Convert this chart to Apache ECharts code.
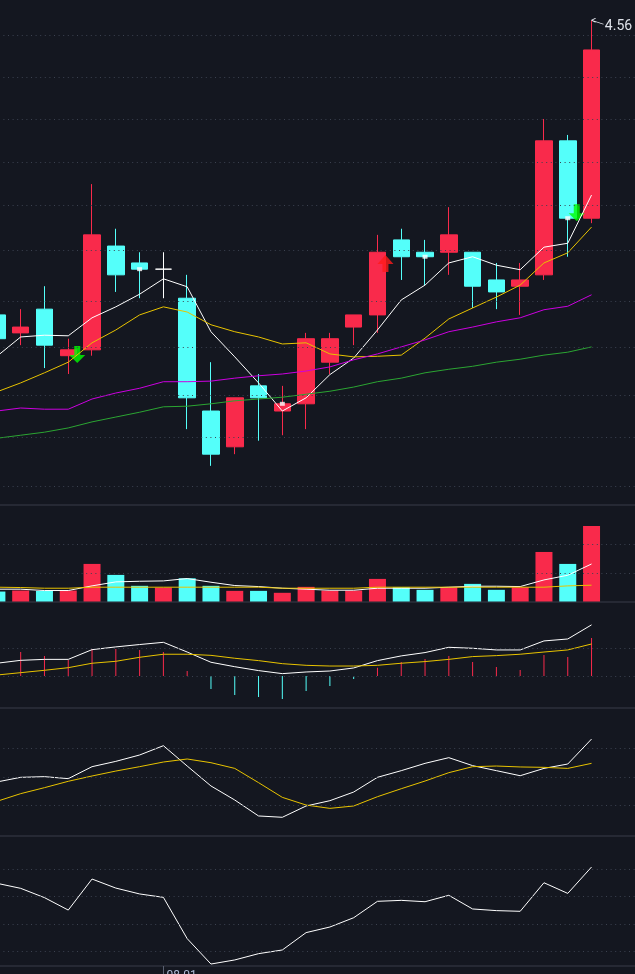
<!DOCTYPE html>
<html>
<head>
<meta charset="utf-8">
<title>K线</title>
<script src="https://cdn.jsdelivr.net/npm/echarts@6/dist/echarts.min.js"></script>
<style>
html, body {margin: 0; padding: 0; background: #141720; overflow: hidden; width: 635px; height: 974px;}
/* 28个K线位宽 23.79px，首根K线只露出一半，所以画布左移 */
#chart {position: absolute; left: -14.7px; top: 0; width: 666.1px; height: 974px;}
</style>
</head>
<body>
<div id="chart"></div>
<script>
// 交易日
var dates = ['07-23','07-24','07-25','07-28','07-29','07-30','07-31','08-01','08-04','08-05',
             '08-06','08-07','08-08','08-11','08-12','08-13','08-14','08-15','08-18','08-19',
             '08-20','08-21','08-22','08-25','08-26','08-27','',''];
// [open, close, low, high]
var kData = [
    [4.016, 3.975, 3.975, 4.016], [3.985, 3.995, 3.964, 4.026], [4.026, 3.964, 3.925, 4.066],
    [3.946, 3.956, 3.915, 3.975], [3.956, 4.157, 3.946, 4.249], [4.137, 4.086, 4.056, 4.168],
    [4.107, 4.096, 4.045, 4.126], [4.096, 4.096, 4.045, 4.126], [4.045, 3.875, 3.823, 4.086],
    [3.853, 3.782, 3.763, 3.935], [3.794, 3.875, 3.782, 3.875], [3.895, 3.875, 3.804, 3.915],
    [3.853, 3.865, 3.813, 3.895], [3.865, 3.975, 3.823, 3.985], [3.935, 3.975, 3.915, 3.985],
    [3.995, 4.016, 3.964, 4.016], [4.016, 4.126, 3.985, 4.157], [4.148, 4.118, 4.077, 4.168],
    [4.126, 4.118, 4.068, 4.148], [4.126, 4.157, 4.086, 4.207], [4.126, 4.066, 4.028, 4.126],
    [4.077, 4.056, 4.026, 4.107], [4.066, 4.077, 4.016, 4.107], [4.086, 4.329, 4.077, 4.370],
    [4.329, 4.187, 4.118, 4.340], [4.187, 4.502, 4.178, 4.560]
];
var ma5  = [3.945, 3.978, 3.981, 3.980, 4.011, 4.030, 4.052, 4.079, 4.065, 3.987, 3.944, 3.900, 3.853,
            3.875, 3.914, 3.942, 3.990, 4.042, 4.068, 4.107, 4.118, 4.103, 4.095, 4.135, 4.142, 4.229];
var ma10 = [3.885, 3.900, 3.917, 3.935, 3.968, 3.990, 4.016, 4.030, 4.021, 3.999, 3.987, 3.978, 3.966,
            3.968, 3.949, 3.944, 3.945, 3.947, 3.976, 4.009, 4.028, 4.047, 4.068, 4.107, 4.125, 4.171];
var ma20 = [3.853, 3.858, 3.856, 3.856, 3.873, 3.883, 3.891, 3.902, 3.902, 3.903, 3.908, 3.912, 3.915,
            3.920, 3.927, 3.939, 3.949, 3.961, 3.973, 3.987, 3.995, 4.004, 4.011, 4.025, 4.031, 4.051];
var ma60 = [3.808, 3.813, 3.818, 3.825, 3.835, 3.843, 3.851, 3.860, 3.861, 3.865, 3.870, 3.873, 3.876,
            3.881, 3.886, 3.893, 3.902, 3.908, 3.917, 3.923, 3.928, 3.935, 3.940, 3.947, 3.952, 3.961];
var priceGrid = [4.525, 4.445, 4.365, 4.285, 4.205, 4.125, 4.045, 3.965, 3.885, 3.805, 3.725];
var highMark = 4.56;
// 信号点
var sellSignal = [[3, 3.948], [24, 4.197]];
var buySignal = [[16, 4.106]];
var dotMark = [[6, 4.096], [12, 3.865], [18, 4.118], [24, 4.187]];

// 成交量(万手)
var vol    = [1.74, 1.92, 1.85, 1.92, 6.57, 4.65, 2.74, 2.44, 4.06, 2.74, 1.86, 1.86, 1.52,
              2.56, 1.92, 1.92, 3.95, 2.49, 2.04, 2.49, 3.08, 2.04, 2.49, 8.66, 6.57, 13.19];
var volMa5 = [2.15, 2.15, 1.92, 1.92, 2.73, 3.43, 3.54, 3.60, 4.01, 3.37, 2.79, 2.61, 2.32,
              2.15, 1.97, 1.97, 2.32, 2.32, 2.32, 2.50, 2.67, 2.67, 2.61, 3.77, 4.59, 6.56];
var volMa10 = [2.50, 2.44, 2.32, 2.32, 2.50, 2.50, 2.50, 2.50, 2.50, 2.50, 2.50, 2.50, 2.32,
               2.32, 2.32, 2.32, 2.50, 2.50, 2.50, 2.50, 2.50, 2.50, 2.50, 2.50, 2.73, 2.85];
var volGrid = [5, 10];

// MACD
var dif  = [0.0092, 0.0113, 0.0120, 0.0120, 0.0190, 0.0210, 0.0227, 0.0243, 0.0173, 0.0099, 0.0067, 0.0039, 0.0017,
            0.0029, 0.0036, 0.0058, 0.0111, 0.0145, 0.0169, 0.0207, 0.0200, 0.0188, 0.0188, 0.0253, 0.0267, 0.0369];
var dea  = [0.0007, 0.0024, 0.0041, 0.0060, 0.0092, 0.0106, 0.0135, 0.0157, 0.0157, 0.0149, 0.0128, 0.0111, 0.0089,
            0.0077, 0.0072, 0.0072, 0.0077, 0.0092, 0.0104, 0.0120, 0.0140, 0.0147, 0.0157, 0.0173, 0.0188, 0.0231];
var macd = [0.0169, 0.0173, 0.0145, 0.0116, 0.0195, 0.0195, 0.0188, 0.0173, 0.0036, -0.0094, -0.0137, -0.0152, -0.0166,
            -0.0108, -0.0072, -0.0022, 0.0060, 0.0101, 0.0123, 0.0145, 0.0101, 0.0065, 0.0043, 0.0152, 0.0137, 0.0275];
var macdGrid = [0, 0.02];

// KD
var kLine = [44.6, 49.5, 50.2, 48.1, 60.7, 66.3, 73.0, 82.8, 61.4, 40.4, 25.6, 8.8, 7.4,
             19.3, 24.9, 34.0, 49.5, 56.5, 64.2, 70.2, 61.8, 56.5, 51.2, 58.9, 63.5, 89.8];
var dLine = [24.2, 32.3, 38.6, 45.3, 50.9, 56.1, 60.7, 65.6, 68.8, 64.9, 58.9, 43.9, 28.4,
             20.3, 16.8, 19.3, 29.1, 37.5, 45.6, 54.4, 60.7, 61.4, 60.4, 60.0, 58.9, 64.2];
var kdGrid = [20, 50, 80];

// RSI
var rsi = [69.8, 66.1, 59.3, 50.2, 72.9, 66.3, 62.0, 59.5, 29.3, 10.7, 13.7, 18.3, 21.0,
           33.7, 37.8, 44.6, 56.6, 57.3, 56.3, 61.0, 51.0, 49.8, 49.3, 70.2, 62.4, 81.7];
var rsiGrid = [20, 40, 60, 80];

var UP = '#f92a4b', DOWN = '#54fffa';
var dotLine = {color: '#3c4250', type: [1, 3.6], width: 1};
var sepLine = {show: true, onZero: false, lineStyle: {color: '#2d313b', width: 1.5}};

function gridLines(values) {
    return {
        silent: true,
        symbol: ['none', 'none'],
        label: {show: false},
        lineStyle: dotLine,
        data: values.map(function (v) { return {yAxis: v}; })
    };
}

function lineSeries(data, color, idx) {
    return {
        type: 'line', data: data, xAxisIndex: idx, yAxisIndex: idx,
        symbol: 'none', smooth: false, silent: true,
        lineStyle: {color: color, width: 1}
    };
}

function xAxisFor(idx) {
    return {
        type: 'category', gridIndex: idx, data: dates, boundaryGap: true,
        axisLine: sepLine, axisTick: {show: false}, axisLabel: {show: false},
        splitLine: {show: false}
    };
}

// 各面板：[top, height]
function panel(top, height) {
    return {left: 0, right: 0, top: top, height: height, containLabel: false, outerBoundsMode: 'none'};
}

var xAxes = [0, 1, 2, 3].map(xAxisFor);
var lastAxis = xAxisFor(4);
lastAxis.axisTick = {
    show: true, alignWithLabel: true, length: 8,
    interval: function (i) { return i === 7; },
    lineStyle: {color: '#5a6070'}
};
lastAxis.axisLabel = {
    show: true, margin: 4, align: 'left', padding: [0, 0, 0, 3],
    color: '#aebbd6', fontSize: 12, fontFamily: 'Roboto',
    interval: function (i) { return i === 7; }
};
xAxes.push(lastAxis);

var volData = vol.map(function (v, i) {
    var k = kData[i];
    return {value: v, itemStyle: {color: k[1] >= k[0] ? UP : DOWN}};
});
var macdData = macd.map(function (v) {
    return {value: v, itemStyle: {color: v >= 0 ? UP : DOWN}};
});

var option = {
    backgroundColor: '#141720',
    animation: false,
    grid: [
        panel(0, 505),
        panel(505, 96.5),
        panel(602, 106),
        panel(708, 128),
        panel(836, 130)
    ],
    xAxis: xAxes,
    yAxis: [
        {type: 'log', logBase: 10, gridIndex: 0, min: 3.70, max: 4.60, show: false, splitLine: {show: false}},
        {type: 'value', gridIndex: 1, min: 0, max: 16.87, show: false, splitLine: {show: false}},
        {type: 'value', gridIndex: 2, min: -0.0231, max: 0.0534, show: false, splitLine: {show: false}},
        {type: 'value', gridIndex: 3, min: -12.3, max: 122.5, show: false, splitLine: {show: false}},
        {type: 'value', gridIndex: 4, min: 9.27, max: 104.4, show: false, splitLine: {show: false}}
    ],
    series: [
        {
            type: 'candlestick', data: kData, xAxisIndex: 0, yAxisIndex: 0,
            barWidth: 17, silent: true,
            itemStyle: {
                color: UP, color0: DOWN, borderColor: UP, borderColor0: DOWN,
                borderColorDoji: '#ffffff', borderWidth: 1
            },
            markLine: gridLines(priceGrid),
            markPoint: {
                silent: true,
                symbol: 'path://M0,2 L4,0 M0,2 L4,4 M0,2 L12,6',
                symbolSize: [12, 6],
                symbolOffset: [6, 1],
                itemStyle: {color: 'rgba(0,0,0,0)', borderColor: '#e6e9ef', borderWidth: 1},
                label: {
                    show: true, position: [14, 2], color: '#dfe3ea',
                    fontSize: 14, fontFamily: 'Roboto',
                    formatter: function () { return highMark.toFixed(2); }
                },
                data: [{coord: [25, highMark]}]
            }
        },
        {
            type: 'scatter', data: sellSignal, xAxisIndex: 0, yAxisIndex: 0, silent: true,
            symbol: 'path://M5,0 L11,0 L11,9 L16,9 L8,17 L0,9 L5,9 Z',
            symbolSize: [16, 17], symbolOffset: [9, 0], itemStyle: {color: '#00ff00'}
        },
        {
            type: 'scatter', data: buySignal, xAxisIndex: 0, yAxisIndex: 0, silent: true,
            symbol: 'path://M8,0 L16,9 L11,9 L11,17 L5,17 L5,9 L0,9 Z',
            symbolSize: [16, 17], symbolOffset: [8, 0], itemStyle: {color: '#ff1a1a'}
        },
        lineSeries(ma5, '#ffffff', 0),
        lineSeries(ma10, '#e8c300', 0),
        lineSeries(ma20, '#cc00e0', 0),
        lineSeries(ma60, '#2ba532', 0),
        {
            type: 'scatter', data: dotMark, xAxisIndex: 0, yAxisIndex: 0, silent: true,
            symbol: 'rect', symbolSize: [5, 4], itemStyle: {color: '#ffffff'}
        },
        {
            type: 'bar', data: volData, xAxisIndex: 1, yAxisIndex: 1, barWidth: 17, silent: true,
            markLine: gridLines(volGrid)
        },
        lineSeries(volMa5, '#ffffff', 1),
        lineSeries(volMa10, '#e8c300', 1),
        {
            type: 'bar', data: macdData, xAxisIndex: 2, yAxisIndex: 2, barWidth: 1, silent: true,
            markLine: gridLines(macdGrid)
        },
        lineSeries(dif, '#ffffff', 2),
        lineSeries(dea, '#e8c300', 2),
        {
            type: 'line', data: kLine, xAxisIndex: 3, yAxisIndex: 3, symbol: 'none', silent: true,
            lineStyle: {color: '#ffffff', width: 1},
            markLine: gridLines(kdGrid)
        },
        lineSeries(dLine, '#e8c300', 3),
        {
            type: 'line', data: rsi, xAxisIndex: 4, yAxisIndex: 4, symbol: 'none', silent: true,
            lineStyle: {color: '#ffffff', width: 1},
            markLine: gridLines(rsiGrid)
        }
    ]
};

var chart = echarts.init(document.getElementById('chart'));
chart.setOption(option);
</script>
</body>
</html>
